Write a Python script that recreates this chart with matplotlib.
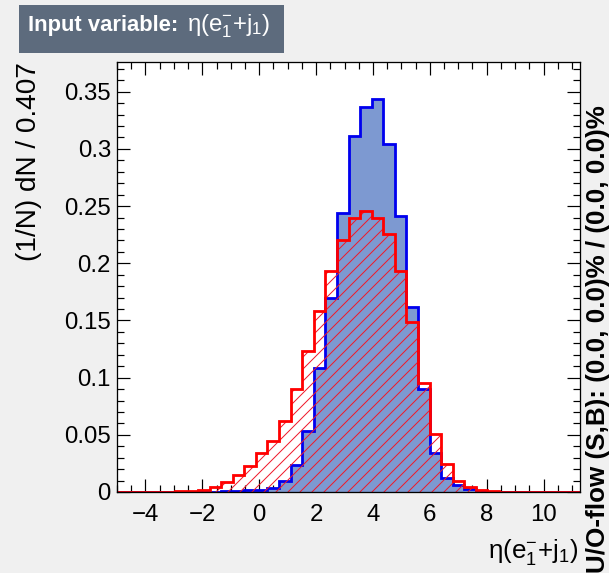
import numpy as np
import matplotlib
matplotlib.use("Agg")
import matplotlib.pyplot as plt
from matplotlib.patches import Rectangle
from matplotlib.ticker import MultipleLocator, FuncFormatter

# binning of the input variable
x_min = -5.0
bin_width = 0.407
n_bins = 40

# normalised entries per bin
signal = [0, 0, 0, 0, 0, 0, 0, 0, 0, 0.0005,
          0.0008, 0.0015, 0.0017, 0.0038, 0.0100, 0.0235, 0.0534, 0.108, 0.170, 0.244,
          0.311, 0.337, 0.344, 0.304, 0.241, 0.162, 0.090, 0.034, 0.0125, 0.006,
          0.003, 0.001, 0.0003, 0, 0, 0, 0, 0, 0, 0]
background = [0, 0, 0, 0, 0, 0.0005, 0.001, 0.002, 0.004, 0.0085,
              0.0148, 0.0228, 0.034, 0.0447, 0.0625, 0.090, 0.1232, 0.1585, 0.193, 0.220,
              0.240, 0.2455, 0.240, 0.2256, 0.193, 0.149, 0.0957, 0.051, 0.0243, 0.0099,
              0.0048, 0.0018, 0.0008, 0.0003, 0, 0, 0, 0, 0, 0]

title_bold = "Input variable:"
var_text = r"η($e^{-}_{1}$+$j_{1}$)"
ylabel_text = "(1/N) dN / 0.407"
oflow_text = "U/O-flow (S,B): (0.0, 0.0)% / (0.0, 0.0)%"

plt.rcParams["font.family"] = ["Liberation Sans", "DejaVu Sans"]
plt.rcParams["mathtext.fontset"] = "custom"
plt.rcParams["mathtext.rm"] = "Liberation Sans"
plt.rcParams["mathtext.it"] = "Liberation Sans:italic"
plt.rcParams["mathtext.bf"] = "Liberation Sans:bold"
plt.rcParams["mathtext.default"] = "rm"
plt.rcParams["hatch.linewidth"] = 1.0

W, H, DPI = 609, 573, 72
fig = plt.figure(figsize=(W / DPI, H / DPI), dpi=DPI, facecolor="#f0f0f0")
ax = fig.add_axes([117 / W, 1 - 492 / H, (580 - 117) / W, (492 - 62) / H])
ax.set_facecolor("white")

edges = x_min + bin_width * np.arange(n_bins + 1)

# signal: filled blue histogram
ax.stairs(signal, edges, fill=True, color="#7d99d1", linewidth=0, zorder=2)
ax.stairs(signal, edges, color="#0000ee", linewidth=2.8, zorder=3)

# background: red hatched histogram
ax.stairs(background, edges, fill=True, facecolor="none", edgecolor="#f01a2a",
          hatch="//", linewidth=0, zorder=4)
ax.stairs(background, edges, color="#ff0000", linewidth=2.8, zorder=5)

ax.set_xlim(x_min, x_min + bin_width * n_bins)
ax.set_ylim(0, 0.376)

ax.xaxis.set_major_locator(MultipleLocator(2))
ax.xaxis.set_minor_locator(MultipleLocator(0.5))
ax.yaxis.set_major_locator(MultipleLocator(0.05))
ax.yaxis.set_minor_locator(MultipleLocator(0.01))
ax.yaxis.set_major_formatter(FuncFormatter(lambda v, p: "%g" % round(v, 3)))

ax.tick_params(which="both", direction="in", top=True, right=True, width=1.2,
               labelsize=24, colors="black")
ax.tick_params(which="major", length=13)
ax.tick_params(which="minor", length=7)
ax.tick_params(axis="x", pad=12)
ax.tick_params(axis="y", pad=6)
for s in ax.spines.values():
    s.set_linewidth(1.3)
    s.set_zorder(6)

# axis titles
fig.text(29 / W, 1 - 62 / H, ylabel_text, rotation=90, ha="center", va="top", fontsize=28)
fig.text(578 / W, 1 - 558 / H, var_text, ha="right", va="baseline", fontsize=26)
fig.text(598 / W, 1 - 573 / H, oflow_text, rotation=90, ha="center", va="bottom",
         fontsize=26, fontweight="bold")

# title box
fig.patches.append(Rectangle((19 / W, 1 - 53 / H), 265 / W, 48 / H,
                             transform=fig.transFigure, facecolor="#5d6b7d",
                             edgecolor="none"))
t1 = fig.text(28 / W, 1 - 31 / H, title_bold, color="white", ha="left", va="baseline",
              fontsize=22, fontweight="bold")
bb = t1.get_window_extent(fig.canvas.get_renderer())
fig.text((bb.x1 + 9) / W, 1 - 31 / H, var_text, color="white", ha="left",
         va="baseline", fontsize=24)

fig.savefig("out.png", dpi=DPI, facecolor=fig.get_facecolor())
